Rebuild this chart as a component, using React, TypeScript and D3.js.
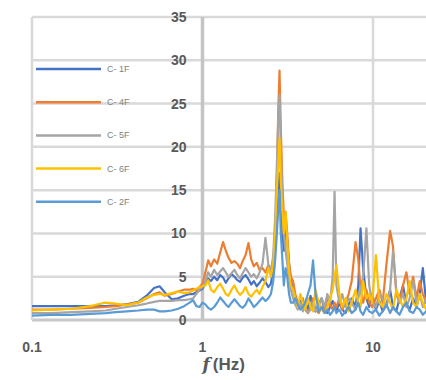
import React from "react";
import * as d3 from "d3";

// frequency grid (Hz)
const freq = [
  0.1, 0.13, 0.17, 0.22, 0.27, 0.31, 0.36, 0.42, 0.47, 0.52, 0.56, 0.6, 0.66, 0.72, 0.78, 0.84, 0.88, 0.92, 0.96,
  1.0,
  1.04, 1.08, 1.12, 1.17, 1.22, 1.27, 1.32, 1.37, 1.42, 1.48, 1.54, 1.6, 1.66, 1.72, 1.79, 1.86, 1.93, 2.0, 2.08, 2.16, 2.25, 2.34, 2.43, 2.52,
  2.6, 2.67, 2.73, 2.78,
  2.83,
  2.88, 2.94, 3.0, 3.07, 3.14, 3.22, 3.3,
  3.4, 3.5, 3.62, 3.75, 3.88, 4.0, 4.15, 4.3, 4.45, 4.6, 4.8, 5.0, 5.2, 5.4, 5.6, 5.8,
  5.95,
  6.1, 6.35, 6.6, 6.9, 7.2, 7.5, 7.9, 8.2, 8.45, 8.75, 9.15, 9.5, 9.9,
  10.4, 10.9, 11.4, 12.0, 12.6, 13.1, 13.7, 14.3, 15.0, 15.7, 16.4, 17.2, 18.0, 18.8, 19.6, 20.5, 21.5,
];

const s1 = [
  1.6, 1.6, 1.6, 1.6, 1.6, 1.7, 1.8, 2.1, 2.8, 3.7, 3.9, 3.2, 2.4, 2.5, 2.8, 3.0, 3.0, 3.2, 3.4,
  3.6,
  4.2, 4.8, 4.5, 5.0, 4.6, 5.2, 4.9, 4.3, 4.8, 5.3, 5.0, 4.6, 4.4, 4.9, 5.2, 4.7, 4.1, 4.5, 3.9, 4.3, 4.8, 4.4, 3.8, 4.2,
  6.0, 8.5, 11.0, 14.0,
  17.0,
  12.5, 10.0, 8.0, 11.5, 9.0, 6.5, 4.5,
  3.5, 2.5, 1.8, 2.2, 1.5, 2.0, 1.2, 2.8, 1.5, 1.0, 1.8, 2.5, 1.2, 0.8, 1.5, 2.2,
  1.5,
  1.0, 2.0, 1.2, 0.8, 1.8, 2.5, 1.5, 4.0, 10.6, 6.0, 2.5, 1.5, 3.0,
  1.2, 2.2, 1.0, 1.8, 3.5, 1.5, 1.0, 2.5, 4.0, 1.8, 1.2, 2.5, 1.5, 3.0, 6.0, 2.0, 1.5,
];

const s2 = [
  1.2, 1.2, 1.3, 1.4, 1.5, 1.6, 1.8, 2.0, 2.5, 3.0, 3.2, 2.8, 3.0, 3.3, 3.5, 3.5, 3.6, 3.4, 3.8,
  4.2,
  5.5, 6.9, 6.2, 7.0, 6.5, 7.8, 9.0, 8.0, 7.2, 6.6, 6.8, 6.5, 6.0, 6.8, 7.5, 8.9, 7.0, 6.2, 6.6, 5.8, 6.0, 5.5, 6.3, 5.8,
  7.0, 10.0, 16.0, 24.0,
  28.8,
  22.0, 16.0, 12.0, 12.5, 10.0, 6.5, 5.0,
  4.5, 3.0, 2.0, 1.5, 2.5, 1.2, 0.8, 1.5, 2.5, 1.2, 0.8, 1.5, 1.0, 2.5, 1.8, 1.2,
  2.0,
  1.5, 2.5, 1.2, 2.0, 3.0, 4.5, 9.0, 7.0, 3.5, 2.0, 3.5, 2.0, 1.5,
  2.5, 3.5, 2.0, 6.5, 10.3, 8.5, 3.0, 2.0, 4.0, 5.5, 3.0, 5.0, 2.5, 4.5, 3.0, 2.0, 3.5,
];

const s3 = [
  0.8, 0.8, 0.9, 1.0, 1.1, 1.3, 1.5, 1.7, 1.9, 2.1, 2.2, 2.2, 2.2, 2.3, 2.3, 2.4, 2.5, 3.0, 3.5,
  3.8,
  4.5, 5.5, 5.0, 5.8, 5.2, 5.6, 6.0, 5.5, 5.0, 5.4, 5.8, 5.2, 4.8, 5.4, 6.0, 5.5, 5.0, 5.3, 4.8, 5.5, 6.5, 9.5, 6.5, 5.5,
  7.5, 12.0, 18.0, 23.0,
  26.0,
  20.0, 14.0, 10.0, 8.0, 6.5, 5.0, 3.5,
  2.5, 1.8, 1.2, 2.0, 1.0, 1.5, 0.8, 1.2, 2.0, 1.0, 1.5, 2.5, 1.5, 3.0, 2.0, 5.0,
  14.8,
  4.0, 2.0, 3.0, 1.5, 2.5, 2.0, 1.2, 2.5, 3.5, 5.0, 10.6, 4.0, 2.0,
  1.5, 3.0, 2.5, 1.5, 3.5, 8.0, 3.5, 2.0, 3.0, 1.5, 2.5, 4.5, 2.0, 3.0, 1.5, 2.5, 2.0,
];

const s4 = [
  1.1, 1.2, 1.3, 1.6, 2.0, 1.9, 1.7, 2.0, 2.6, 2.9, 3.0, 2.9, 3.1, 3.3, 3.1, 3.2, 3.4, 3.6, 3.8,
  3.9,
  4.0, 4.6, 3.5, 3.2, 3.8, 4.2, 3.6, 3.0, 2.8, 3.5, 4.0, 3.3, 2.9, 3.2, 3.8, 3.0, 2.7, 3.1, 3.5, 3.0, 3.8, 4.5, 6.0, 5.0,
  6.5, 10.0, 15.0, 18.0,
  21.0,
  16.0, 12.5, 10.0, 12.5, 9.0, 5.5, 4.0,
  3.5, 2.5, 1.5, 3.0, 2.0, 1.2, 2.5, 1.5, 1.0, 3.5, 2.0, 1.2, 0.8, 1.5, 2.5, 3.5,
  5.0,
  6.3, 3.0, 1.5, 2.5, 1.0, 2.0, 3.5, 2.0, 1.5, 4.5, 2.5, 3.0, 2.0,
  7.5, 2.0, 1.5, 3.0, 2.0, 1.2, 3.5, 2.5, 1.5, 2.5, 4.5, 2.0, 1.5, 3.0, 2.0, 1.2, 4.0,
];

const s5 = [
  0.5, 0.6, 0.6, 0.7, 0.8, 0.9, 1.0, 1.1, 1.2, 1.2, 1.0, 1.0, 1.1, 1.3, 1.6, 2.0, 2.3, 1.6, 1.5,
  2.0,
  1.8, 1.4, 1.2, 1.5, 2.0, 2.6, 2.2, 1.8, 1.5, 2.0, 2.4, 2.0, 1.6, 1.4, 1.8, 2.5, 2.0, 1.5, 1.8, 2.2, 2.6, 2.2, 2.5, 3.0,
  4.5, 7.0, 10.0, 13.0,
  15.0,
  10.0, 7.0, 4.0, 6.0, 5.0, 3.0, 2.0,
  2.0, 2.5, 1.8, 1.2, 1.5, 2.0, 3.0, 4.0, 6.9, 3.0, 1.0, 1.5, 0.8, 1.2, 0.6, 1.0,
  1.5,
  0.8, 1.2, 0.5, 1.0, 1.5, 0.8, 1.2, 2.0, 1.0, 0.6, 1.5, 1.0, 0.8,
  1.2, 0.5, 1.0, 1.8, 0.8, 1.5, 1.0, 0.6, 1.5, 2.0, 1.0, 0.8, 1.5, 1.2, 0.6, 1.0, 1.5,
];

const seriesNames = ["C- 1F", "C- 4F", "C- 5F", "C- 6F", "C- 2F"];
const seriesColors = ["#4472C4", "#ED7D31", "#A5A5A5", "#FFC000", "#5B9BD5"];
const seriesValues = [s1, s2, s3, s4, s5];

// gridlines run on past the cropped right edge; only the visible ones get labels
const xGrid = [0.1, 1, 10, 100];
const xTicks = [0.1, 1, 10];
const xTickLabels = ["0.1", "1", "10"];
const yTicks = [0, 5, 10, 15, 20, 25, 30, 35];

const W = 426;
const H = 380;

export default function App() {
  const x = d3.scaleLog().domain([0.1, 100]).range([32, 32 + 3 * 170.5]);
  const y = d3.scaleLinear().domain([0, 35]).range([320, 17]);

  const line = d3
    .line<number>()
    .x((_, i) => x(freq[i]))
    .y((d) => y(d));

  const font = "'Liberation Sans', Arial, sans-serif";

  return (
    <svg
      width={W}
      height={H}
      style={{ position: "absolute", left: 0, top: 0, background: "#fff" }}
    >
      {/* horizontal gridlines */}
      {yTicks.map((t) => (
        <line
          key={"h" + t}
          x1={x(0.1)}
          x2={W}
          y1={y(t)}
          y2={y(t)}
          stroke={t === 0 ? "#c8c8c8" : "#d9d9d9"}
          strokeWidth={t === 0 ? 3 : 2.5}
        />
      ))}
      {/* vertical gridlines */}
      {xGrid.map((t) => (
        <line
          key={"v" + t}
          x1={x(t)}
          x2={x(t)}
          y1={y(35)}
          y2={y(0)}
          stroke={t === 1 ? "#c4c4c4" : "#d9d9d9"}
          strokeWidth={t === 1 ? 3.5 : 2.5}
        />
      ))}

      {/* series */}
      {seriesValues.map((vals, i) => (
        <path
          key={"s" + i}
          d={line(vals) || ""}
          fill="none"
          stroke={seriesColors[i]}
          strokeWidth={2.2}
          strokeLinejoin="round"
        />
      ))}

      {/* y tick labels */}
      {yTicks.map((t) => (
        <text
          key={"yl" + t}
          x={x(1) - 16}
          y={y(t) + 5}
          textAnchor="end"
          fontFamily={font}
          fontSize={14}
          fontWeight={600}
          fill="#595959"
        >
          {t}
        </text>
      ))}

      {/* x tick labels */}
      {xTicks.map((t, i) => (
        <text
          key={"xl" + t}
          x={x(t)}
          y={352}
          textAnchor="middle"
          fontFamily={font}
          fontSize={14}
          fontWeight={600}
          fill="#595959"
        >
          {xTickLabels[i]}
        </text>
      ))}

      {/* axis title */}
      <text x={x(1)} y={370} fontFamily={font} fontSize={17} fontWeight={600} fill="#595959">
        <tspan fontStyle="italic" fontFamily="'DejaVu Serif', serif">f</tspan>
        <tspan dx={3}>(Hz)</tspan>
      </text>

      {/* legend */}
      {seriesNames.map((name, i) => {
        const ly = 69 + i * 33.2;
        return (
          <g key={"lg" + i}>
            <line x1={36} x2={101} y1={ly} y2={ly} stroke={seriesColors[i]} strokeWidth={2.5} />
            <text x={107} y={ly + 3} fontFamily={font} fontSize={9} fill="#7f7f7f">
              {name}
            </text>
          </g>
        );
      })}
    </svg>
  );
}
